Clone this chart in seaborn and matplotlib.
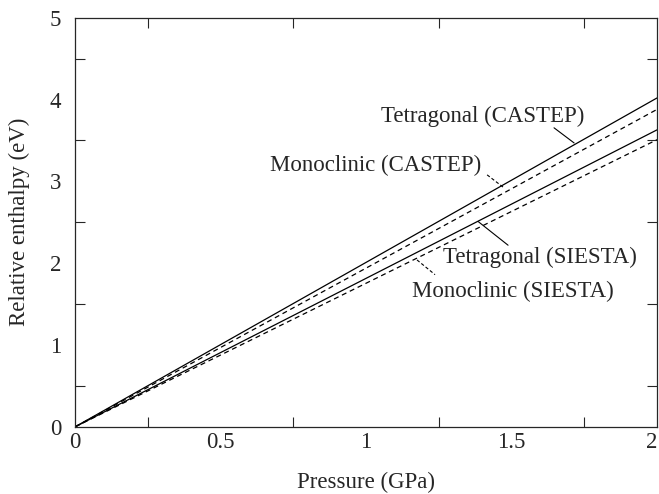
import pandas as pd
import seaborn as sns
import matplotlib.pyplot as plt
from matplotlib.ticker import MultipleLocator

# valeurs
pressure = [0.0, 2.0]
tetra_castep = [0.0, 4.02]
mono_castep = [0.0, 3.88]
tetra_siesta = [0.0, 3.63]
mono_siesta = [0.0, 3.51]

series = ["Tetragonal (CASTEP)", "Monoclinic (CASTEP)",
          "Tetragonal (SIESTA)", "Monoclinic (SIESTA)"]
xticks = [0, 0.5, 1, 1.5, 2]
xticklabels = ["0", "0.5", "1", "1.5", "2"]

df = pd.concat([
    pd.DataFrame({"P": pressure, "H": vals, "phase": name})
    for name, vals in zip(series, [tetra_castep, mono_castep, tetra_siesta, mono_siesta])
])

sns.set_style("ticks")
plt.rcParams["font.family"] = ["Liberation Serif", "DejaVu Serif"]
FS = 16.5

fig = plt.figure(figsize=(6.59, 4.94), dpi=100)
ax = fig.add_axes([0.114, 0.136, 0.883, 0.828])

styles = {"Tetragonal (CASTEP)": "-", "Monoclinic (CASTEP)": "--",
          "Tetragonal (SIESTA)": "-", "Monoclinic (SIESTA)": "--"}
for name in series:
    sub = df[df["phase"] == name]
    sns.lineplot(data=sub, x="P", y="H", ax=ax, color="black", lw=0.9,
                 linestyle=styles[name], legend=False)
    if styles[name] == "--":
        ax.lines[-1].set_dashes((4, 3))

# étiquettes avec traits de rappel
labels = [
    ("Tetragonal (CASTEP)", (1.402, 3.79), (1.646, 3.655), (1.715, 3.47), "-"),
    ("Monoclinic (CASTEP)", (1.034, 3.20), (1.416, 3.08), (1.471, 2.93), "--"),
    ("Tetragonal (SIESTA)", (1.598, 2.07), (1.385, 2.51), (1.488, 2.22), "-"),
    ("Monoclinic (SIESTA)", (1.505, 1.65), (1.175, 2.04), (1.237, 1.86), "--"),
]
for txt, pos, p0, p1, ls in labels:
    ax.text(pos[0], pos[1], txt, ha="center", va="center", fontsize=FS)
    l, = ax.plot([p0[0], p1[0]], [p0[1], p1[1]], color="black", lw=0.8, linestyle=ls)
    if ls == "--":
        l.set_dashes((3, 2))

ax.set_xlim(0, 2)
ax.set_ylim(0, 5)
ax.set_xticks(xticks, labels=xticklabels)
ax.xaxis.set_minor_locator(MultipleLocator(0.25))
ax.yaxis.set_major_locator(MultipleLocator(1))
ax.yaxis.set_minor_locator(MultipleLocator(0.5))
ax.tick_params(which="both", direction="in", top=True, right=True,
               labelsize=FS, width=0.8)
ax.tick_params(which="major", length=0)
ax.tick_params(axis="x", which="major", pad=4)
ax.tick_params(axis="y", which="major", pad=10)
ax.tick_params(which="minor", length=7)
for s in ax.spines.values():
    s.set_linewidth(0.9)
    s.set_visible(True)

ax.get_xticklabels()[-1].set_horizontalalignment("right")

ax.set_xlabel("Pressure (GPa)", fontsize=FS, labelpad=13)
ax.set_ylabel("Relative enthalpy (eV)", fontsize=FS, labelpad=14)

fig.savefig("out.png", dpi=100)
